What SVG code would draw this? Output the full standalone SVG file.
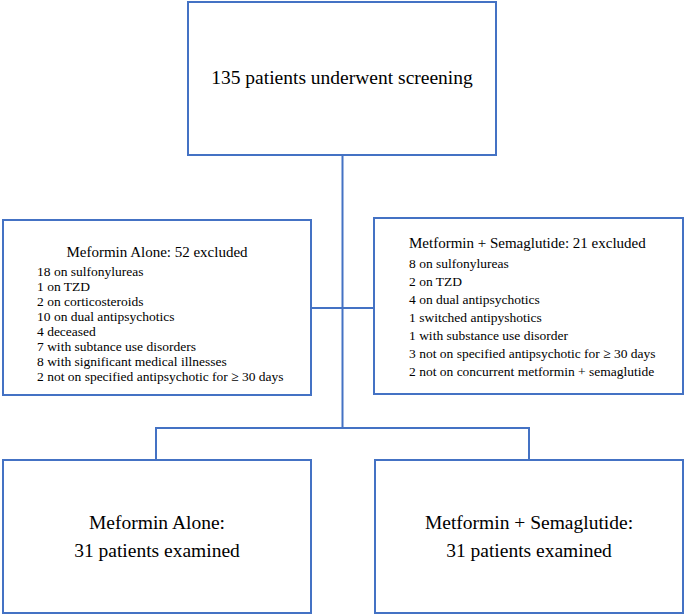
<svg xmlns="http://www.w3.org/2000/svg" width="685" height="615" viewBox="0 0 685 615">
<style>
.box{fill:#fff;stroke:#4472C4;stroke-width:2}
.ln{fill:none;stroke:#4472C4;stroke-width:2}
text{font-family:"Liberation Serif","Times New Roman",Times,"Tinos","DejaVu Serif",serif;fill:#000}
.big{font-size:19.5px}
.ttl{font-size:15px}
.sm{font-size:13.5px}
</style>
<rect width="685" height="615" fill="#fff"/>
<g id="connectors">
<path class="ln" d="M342.5,155 V428"/>
<path class="ln" d="M311,308 H374"/>
<path class="ln" d="M156,460 V428 H529 V460"/>
</g>
<g id="screening">
<rect class="box" x="188" y="2" width="308" height="153"/>
<text class="big" x="342" y="84" text-anchor="middle">135 patients underwent screening</text>
</g>
<g id="excl-left">
<rect class="box" x="3" y="220" width="308" height="175"/>
<text class="ttl" x="157" y="257" text-anchor="middle">Meformin Alone: 52 excluded</text>
<text class="sm" x="37" y="276">18 on sulfonylureas</text>
<text class="sm" x="37" y="291">1 on TZD</text>
<text class="sm" x="37" y="306">2 on corticosteroids</text>
<text class="sm" x="37" y="321">10 on dual antipsychotics</text>
<text class="sm" x="37" y="336">4 deceased</text>
<text class="sm" x="37" y="351">7 with subtance use disorders</text>
<text class="sm" x="37" y="366">8 with significant medical illnesses</text>
<text class="sm" x="37" y="381">2 not on specified antipsychotic for ≥ 30 days</text>
</g>
<g id="excl-right">
<rect class="box" x="374" y="218" width="309" height="176"/>
<text class="ttl" x="409" y="248">Metformin + Semaglutide: 21 excluded</text>
<text class="sm" x="409" y="268">8 on sulfonylureas</text>
<text class="sm" x="409" y="286">2 on TZD</text>
<text class="sm" x="409" y="304">4 on dual antipsychotics</text>
<text class="sm" x="409" y="322">1 switched antipyshotics</text>
<text class="sm" x="409" y="340">1 with substance use disorder</text>
<text class="sm" x="409" y="358">3 not on specified antipsychotic for ≥ 30 days</text>
<text class="sm" x="409" y="376">2 not on concurrent metformin + semaglutide</text>
</g>
<g id="result-left">
<rect class="box" x="3" y="460" width="308" height="153"/>
<text class="big" x="157" y="529" text-anchor="middle">Meformin Alone:</text>
<text class="big" x="157" y="557" text-anchor="middle">31 patients examined</text>
</g>
<g id="result-right">
<rect class="box" x="375" y="460" width="308" height="153"/>
<text class="big" x="529" y="529" text-anchor="middle">Metformin + Semaglutide:</text>
<text class="big" x="529" y="557" text-anchor="middle">31 patients examined</text>
</g>
</svg>
